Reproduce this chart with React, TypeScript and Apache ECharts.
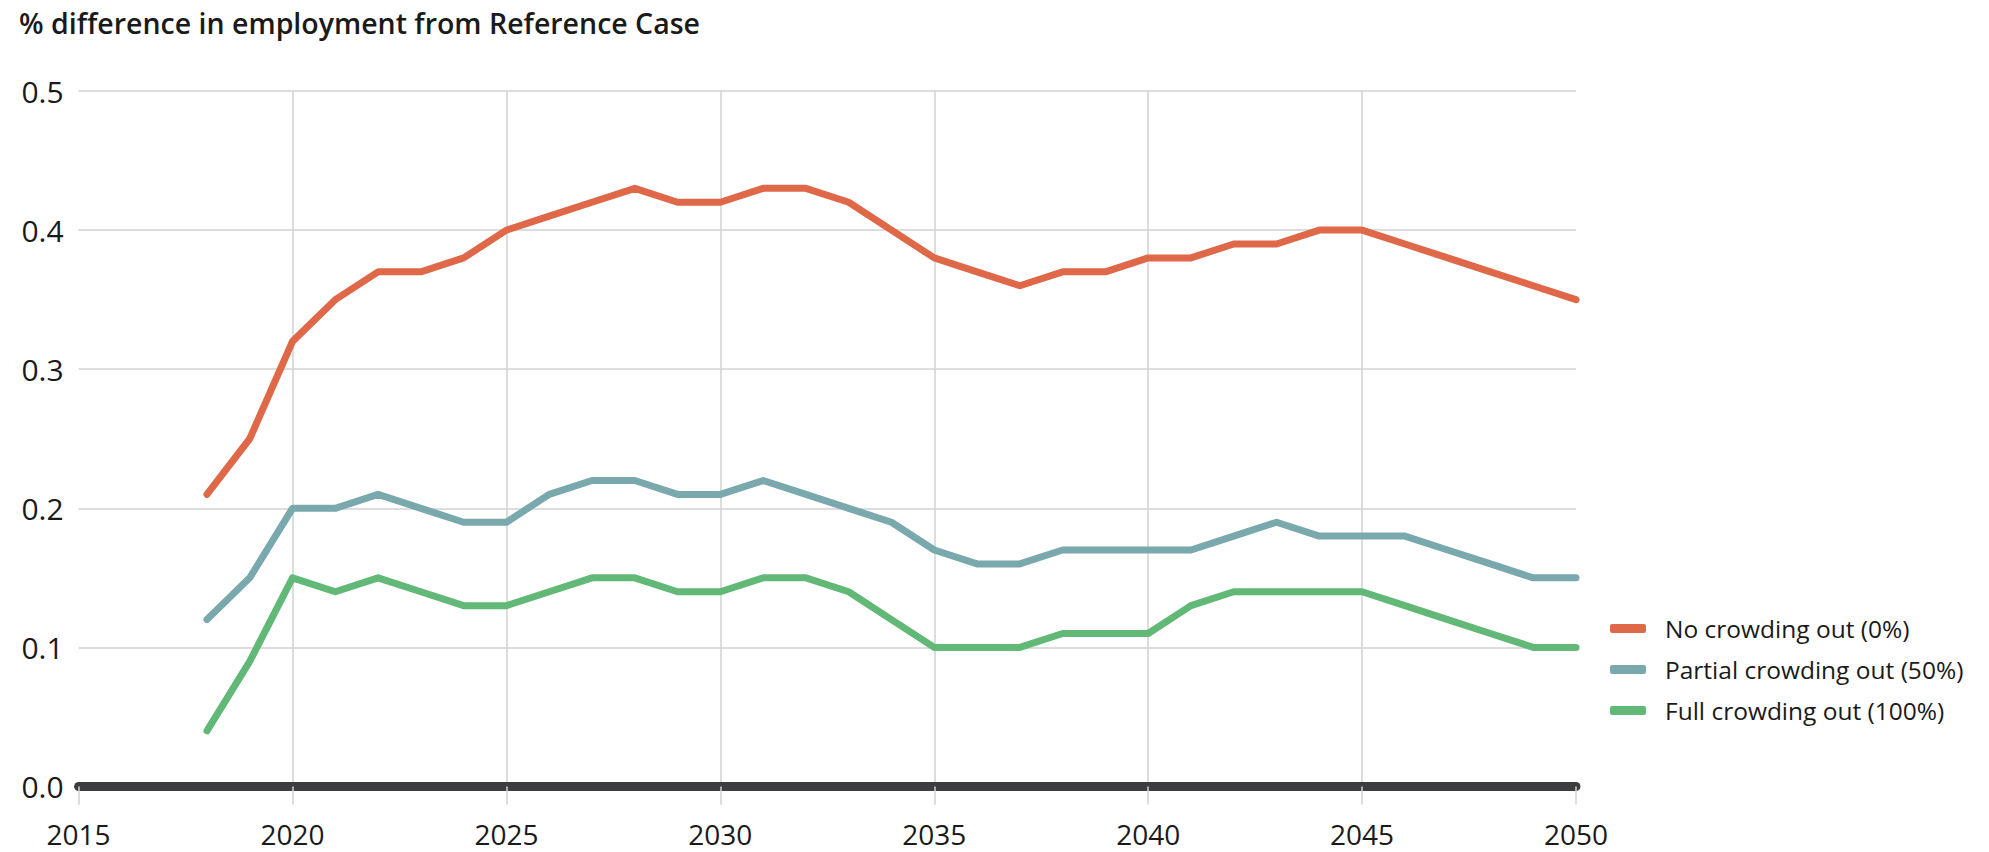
import React, { useEffect, useRef } from "react";
import * as echarts from "echarts";

const years = [2018, 2019, 2020, 2021, 2022, 2023, 2024, 2025, 2026, 2027, 2028, 2029, 2030, 2031, 2032, 2033, 2034, 2035, 2036, 2037, 2038, 2039, 2040, 2041, 2042, 2043, 2044, 2045, 2046, 2047, 2048, 2049, 2050];
const noCrowding = [0.21, 0.25, 0.32, 0.35, 0.37, 0.37, 0.38, 0.40, 0.41, 0.42, 0.43, 0.42, 0.42, 0.43, 0.43, 0.42, 0.40, 0.38, 0.37, 0.36, 0.37, 0.37, 0.38, 0.38, 0.39, 0.39, 0.40, 0.40, 0.39, 0.38, 0.37, 0.36, 0.35];
const partialCrowding = [0.12, 0.15, 0.20, 0.20, 0.21, 0.20, 0.19, 0.19, 0.21, 0.22, 0.22, 0.21, 0.21, 0.22, 0.21, 0.20, 0.19, 0.17, 0.16, 0.16, 0.17, 0.17, 0.17, 0.17, 0.18, 0.19, 0.18, 0.18, 0.18, 0.17, 0.16, 0.15, 0.15];
const fullCrowding = [0.04, 0.09, 0.15, 0.14, 0.15, 0.14, 0.13, 0.13, 0.14, 0.15, 0.15, 0.14, 0.14, 0.15, 0.15, 0.14, 0.12, 0.10, 0.10, 0.10, 0.11, 0.11, 0.11, 0.13, 0.14, 0.14, 0.14, 0.14, 0.13, 0.12, 0.11, 0.10, 0.10];
const seriesNames = ["No crowding out (0%)", "Partial crowding out (50%)", "Full crowding out (100%)"];
const seriesColors = ["#DF6848", "#79A8AD", "#62B876"];
const titleText = "% difference in employment from Reference Case";

const FONT = "'Open Sans', 'DejaVu Sans', sans-serif";

export default function App() {
  const ref = useRef<HTMLDivElement>(null);
  useEffect(() => {
    document.body.style.margin = "0";
    if (!ref.current) return;
    const chart = echarts.init(ref.current, null, { renderer: "svg" });
    const allData = [noCrowding, partialCrowding, fullCrowding];
    chart.setOption({
      animation: false,
      backgroundColor: "#ffffff",
      title: {
        text: titleText,
        left: 14,
        top: 3,
        textStyle: { fontFamily: FONT, fontSize: 28.5, fontWeight: 600, color: "#1a1a1a" },
      },
      legend: {
        orient: "vertical",
        left: 1605,
        top: 608,
        itemWidth: 36,
        itemHeight: 9,
        itemGap: 10,
        icon: "roundRect",
        data: seriesNames,
        textStyle: { fontFamily: FONT, fontSize: 24.5, color: "#1a1a1a", lineHeight: 31, padding: [0, 0, 0, 14] },
      },
      grid: { left: 78.6, right: 413, top: 91, bottom: 65.5, containLabel: false },
      xAxis: {
        type: "value",
        min: 2015,
        max: 2050,
        interval: 5,
        axisLine: { show: true, onZero: false, lineStyle: { color: "#3d3d3f", width: 9 } },
        axisTick: { show: true, length: 18, lineStyle: { color: "#d2d2d2", width: 1.5 } },
        axisLabel: {
          fontFamily: FONT,
          fontSize: 28,
          color: "#1a1a1a",
          margin: 33,
          formatter: (v: number) => String(v),
        },
        splitLine: { show: true, showMinLine: false, showMaxLine: false, lineStyle: { color: "#d2d2d2", width: 1.5 } },
      },
      yAxis: {
        type: "value",
        min: 0,
        max: 0.5,
        interval: 0.1,
        axisLine: { show: false },
        axisTick: { show: false },
        axisLabel: {
          fontFamily: FONT,
          fontSize: 30,
          color: "#1a1a1a",
          margin: 15,
          formatter: (v: number) => v.toFixed(1),
        },
        splitLine: { show: true, lineStyle: { color: "#d2d2d2", width: 1.5 } },
      },
      series: allData.map((arr, i) => ({
        name: seriesNames[i],
        type: "line",
        data: years.map((y, j) => [y, arr[j]]),
        showSymbol: false,
        symbol: "none",
        color: seriesColors[i],
        lineStyle: { width: 7, color: seriesColors[i], cap: "round", join: "round" },
        z: 3,
      })),
    });
    return () => chart.dispose();
  }, []);
  return <div ref={ref} style={{ width: 1989, height: 852 }} />;
}
